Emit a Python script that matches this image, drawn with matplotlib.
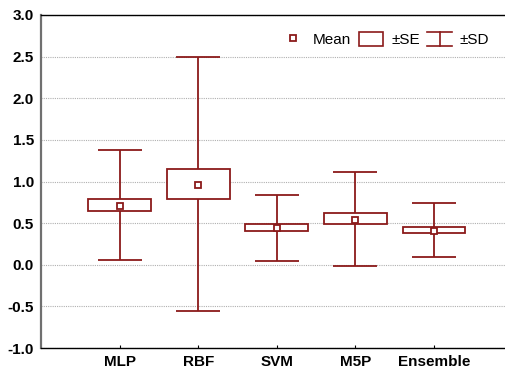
import matplotlib
matplotlib.use("Agg")
import matplotlib.pyplot as plt
from matplotlib.lines import Line2D
from matplotlib.patches import Patch
from matplotlib.legend_handler import HandlerBase

RED = "#8b1a1a"

models = ["MLP", "RBF", "SVM", "M5P", "Ensemble"]
means = [0.71, 0.96, 0.44, 0.54, 0.41]
se_low = [0.64, 0.79, 0.40, 0.49, 0.38]
se_high = [0.79, 1.15, 0.49, 0.62, 0.45]
sd_low = [0.06, -0.55, 0.05, -0.015, 0.09]
sd_high = [1.38, 2.49, 0.84, 1.11, 0.745]
y_ticks = [-1.0, -0.5, 0.0, 0.5, 1.0, 1.5, 2.0, 2.5, 3.0]


class WhiskerHandler(HandlerBase):
    # draws a small "I" shaped whisker symbol for the legend
    def create_artists(self, legend, orig_handle, xdescent, ydescent,
                       width, height, fontsize, trans):
        x0, x1 = -xdescent, -xdescent + width
        xm = (x0 + x1) / 2
        y0, y1 = -ydescent, -ydescent + height
        kw = dict(color=RED, lw=1.2, transform=trans)
        return [
            Line2D([x0, x1], [y1, y1], **kw),
            Line2D([x0, x1], [y0, y0], **kw),
            Line2D([xm, xm], [y0, y1], **kw),
        ]


plt.rcParams["font.family"] = ["Liberation Sans", "DejaVu Sans"]

fig = plt.figure(figsize=(5.05, 3.71), dpi=100)
ax = fig.add_axes([41 / 505, 23 / 371, 464 / 505, 333 / 371])

pos = list(range(1, len(models) + 1))
ax.vlines(pos, sd_low, sd_high, color=RED, lw=1.3, zorder=2)
ax.hlines(sd_high, [p - 0.28 for p in pos], [p + 0.28 for p in pos], color=RED, lw=1.3, zorder=2)
ax.hlines(sd_low, [p - 0.28 for p in pos], [p + 0.28 for p in pos], color=RED, lw=1.3, zorder=2)
ax.bar(pos, [h - l for h, l in zip(se_high, se_low)], bottom=se_low, width=0.8,
       facecolor="white", edgecolor=RED, lw=1.3, zorder=3)
ax.plot(pos, means, ls="none", marker="s", ms=4.8, mfc="white", mec=RED, mew=1.3, zorder=4)

ax.set_xlim(0, 464 / 78.6)
ax.set_ylim(-1.0, 3.0)
ax.set_xticks(pos)
ax.set_xticklabels(models, fontsize=11, fontweight="bold")
ax.set_yticks(y_ticks)
ax.set_yticklabels([f"{v:.1f}" for v in y_ticks], fontsize=11, fontweight="bold")
ax.tick_params(axis="y", length=0, pad=5)
ax.tick_params(axis="x", direction="in", length=2.5, pad=5)
ax.yaxis.grid(True, ls=(0, (1, 1)), color="#b0b0b0", lw=0.8)
ax.set_axisbelow(True)

ax.spines["right"].set_visible(False)
ax.spines["left"].set_color("#707070")
ax.spines["left"].set_linewidth(1.6)
ax.spines["top"].set_linewidth(1.0)
ax.spines["bottom"].set_linewidth(1.0)

handles = [
    Line2D([], [], ls="none", marker="s", ms=4.8, mfc="white", mec=RED, mew=1.3),
    Patch(facecolor="white", edgecolor=RED, lw=1.2),
    object(),
]
ax.legend(handles, ["Mean", "±SE", "±SD"], loc="upper right", ncol=3, frameon=False,
          fontsize=11, handlelength=1.6, handleheight=1.0, handletextpad=0.5,
          columnspacing=0.5, bbox_to_anchor=(0.995, 0.99),
          handler_map={object: WhiskerHandler()})

fig.savefig("out.png", dpi=100)
